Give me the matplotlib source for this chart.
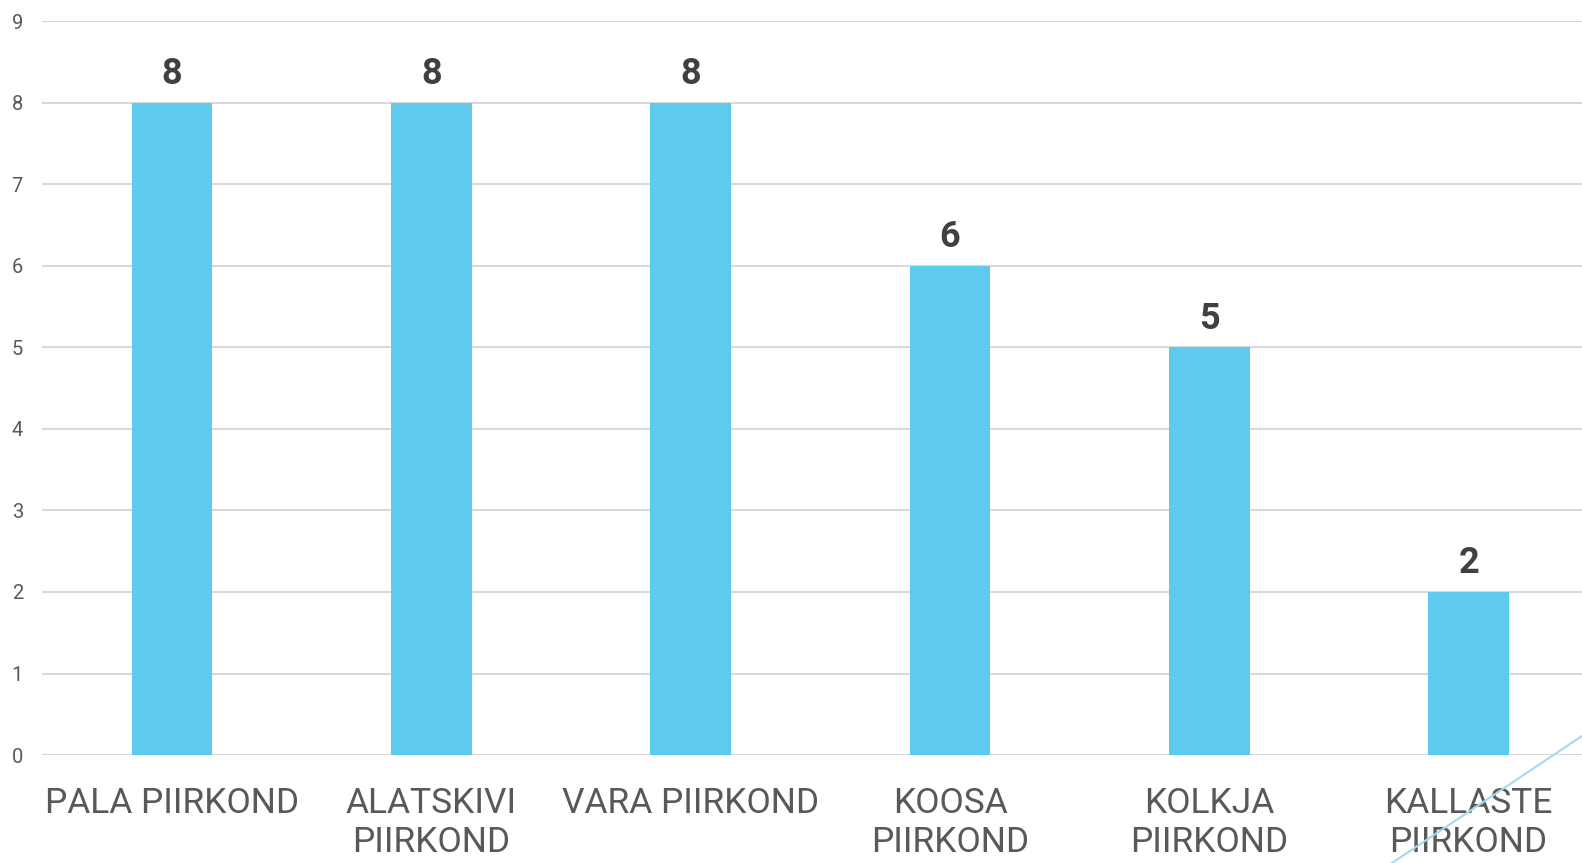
import matplotlib
matplotlib.use("Agg")
import matplotlib.pyplot as plt
from matplotlib.lines import Line2D

# data
categories = ["PALA PIIRKOND", "ALATSKIVI\nPIIRKOND", "VARA PIIRKOND",
              "KOOSA\nPIIRKOND", "KOLKJA\nPIIRKOND", "KALLASTE\nPIIRKOND"]
values = [8, 8, 8, 6, 5, 2]
yticks = list(range(0, 10))

plt.rcParams['font.family'] = ['Roboto', 'DejaVu Sans']

fig = plt.figure(figsize=(15.82, 8.63), dpi=100)
ax = fig.add_axes([0.0268, 0.1251, 0.9835, 0.8503])

x = list(range(len(categories)))
ax.bar(x, values, width=0.31, color="#5ecbee", zorder=3)

for xi, v in zip(x, values):
    ax.text(xi, v + 0.13, str(v), ha="center", va="bottom",
            fontsize=26, fontweight="bold", color="#404040")

ax.set_xlim(-0.5, len(categories) - 0.5)
ax.set_ylim(0, 9)
ax.set_yticks(yticks)
ax.set_xticks(x)
ax.set_xticklabels(categories, fontsize=25.5, color="#595959", linespacing=1.25)
ax.tick_params(axis="y", length=0, pad=14, labelsize=14.5, labelcolor="#595959")
ax.tick_params(axis="x", length=0, pad=23)
ax.grid(axis="y", color="#d9d9d9", linewidth=1.5, zorder=0)
for s in ax.spines.values():
    s.set_visible(False)

# decorative diagonal line in the corner
fig.add_artist(Line2D([1392 / 1582, 1.0], [0.0, 127 / 863],
                      transform=fig.transFigure, color="#a8d8e8", linewidth=1.5))

fig.savefig("out.png", dpi=100)
